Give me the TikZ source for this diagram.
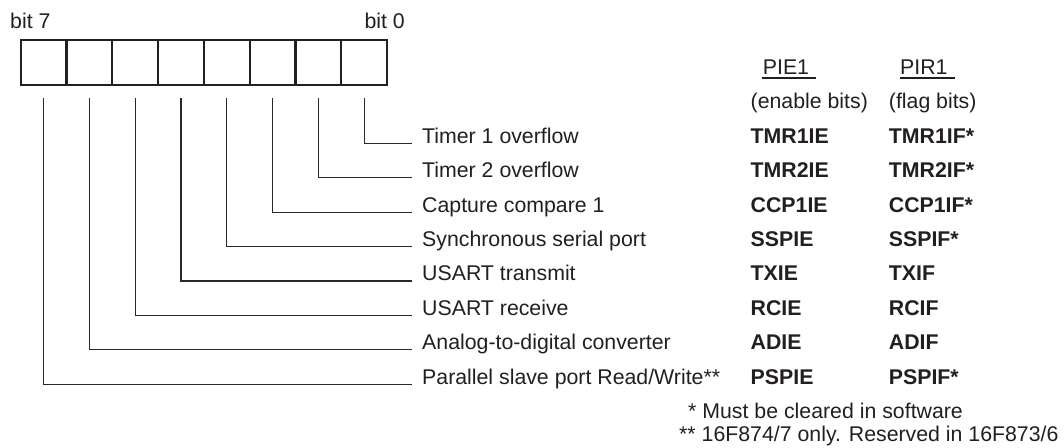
\documentclass[tikz,border=0pt]{standalone}
\usepackage{fontspec}
\setmainfont{Liberation Sans}
\definecolor{inkc}{RGB}{35,31,32}
\definecolor{wirec}{RGB}{40,40,40}
\begin{document}
\begin{tikzpicture}[x=1pt,y=-1pt,
  cell/.style={draw=inkc, line width=2.2pt, minimum width=45.8pt, minimum height=45.3pt, inner sep=0pt, anchor=center},
  txt/.style={inner sep=0pt, anchor=base west, text=inkc, font=\fontsize{21.3}{25}\selectfont},
  btxt/.style={txt, font=\fontsize{21.3}{25}\selectfont\bfseries},
  wire/.style={draw=wirec, line width=1.2pt},
  uline/.style={draw=inkc, line width=1.6pt}]
\useasboundingbox (0,0) rectangle (1064,447);

% register cells (bit 7 .. bit 0)
\foreach \k in {0,...,7} {
  \node[cell] (c\k) at ({43.6+45.8*\k},62.65) {};
}
\node[txt] (b7) at (10,28.3) {bit 7};
\node[txt, anchor=base east] (b0) at (405,28.3) {bit 0};

% headers
\node[txt] (pie) at (762.7,74.5) {PIE1};
\node[txt] (pir) at (900,74.5) {PIR1};
\coordinate (pieL) at (762,77.8);
\coordinate (pieR) at (816,77.8);
\coordinate (pirL) at (900,77.8);
\coordinate (pirR) at (955,77.8);
\draw[uline] (pieL) -- (pieR);
\draw[uline] (pirL) -- (pirR);
\node[txt] (en) at (750.5,108.9) {(enable bits)};
\node[txt] (fl) at (888.7,108.9) {(flag bits)};

% rows: index r from 0 (bit 0) to 7 (bit 7)
\foreach \r/\lab/\ien/\ifl in {
  0/Timer 1 overflow/TMR1IE/TMR1IF*,
  1/Timer 2 overflow/TMR2IE/TMR2IF*,
  2/Capture compare 1/CCP1IE/CCP1IF*,
  3/Synchronous serial port/SSPIE/SSPIF*,
  4/USART transmit/TXIE/TXIF,
  5/USART receive/RCIE/RCIF,
  6/Analog-to-digital converter/ADIE/ADIF,
  7/{Parallel slave port Read/Write**}/PSPIE/PSPIF*} {
  \pgfmathsetmacro{\yy}{143.3+34.4*\r}
  \node[txt] (l\r) at (422,\yy) {\lab};
  \node[btxt] (e\r) at (750.5,\yy) {\ien};
  \node[btxt] (f\r) at (888.7,\yy) {\ifl};
  \pgfmathtruncatemacro{\cc}{7-\r}
  \coordinate (s\r) at ([yshift=-11.7pt]c\cc.south);
  \coordinate (t\r) at ([xshift=-10pt]l\r.base west);
  \draw[wire] (s\r) |- (t\r);
}

% footnotes
\node[txt] (n1) at (688,418) {* Must be cleared in software};
\node[txt] (n2) at (679,441.7) {** 16F874/7 only. Reserved in 16F873/6};
\end{tikzpicture}
\end{document}
